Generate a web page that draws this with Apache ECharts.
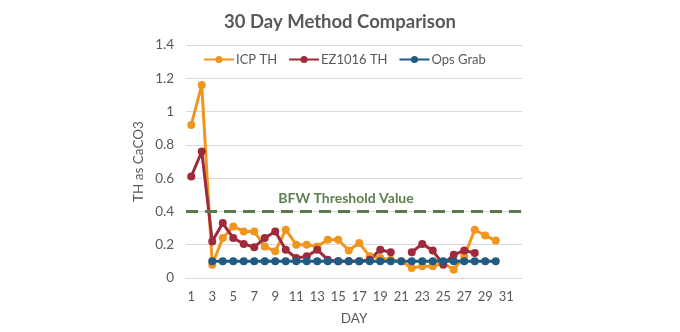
<!DOCTYPE html>
<html>
<head>
<meta charset="utf-8">
<script src="https://cdn.jsdelivr.net/npm/echarts@6/dist/echarts.min.js"></script>
<style>
  html, body { margin: 0; padding: 0; background: #ffffff; }
  #chart { width: 680px; height: 332px; }
</style>
</head>
<body>
<div id="chart"></div>
<script>
const days = ['1','2','3','4','5','6','7','8','9','10','11','12','13','14','15','16',
              '17','18','19','20','21','22','23','24','25','26','27','28','29','30','31','32'];
const icpTH = [0.92, 1.16, 0.08, 0.24, 0.31, 0.28, 0.28, 0.19, 0.16, 0.29, 0.20, 0.20, 0.19, 0.23, 0.23, 0.165,
               0.21, 0.13, 0.12, 0.11, 0.10, 0.06, 0.07, 0.07, 0.09, 0.05, 0.13, 0.29, 0.255, 0.225, null, null];
const ez1016TH = [0.61, 0.76, 0.22, 0.33, 0.24, 0.205, 0.185, 0.24, 0.28, 0.17, 0.12, 0.13, 0.17, 0.11, 0.10, 0.10,
                  0.10, 0.11, 0.17, 0.155, null, 0.155, 0.205, 0.165, 0.08, 0.14, 0.165, 0.15, null, null, null, null];
const opsGrab = [null, null, 0.1, 0.1, 0.1, 0.1, 0.1, 0.1, 0.1, 0.1, 0.1, 0.1, 0.1, 0.1, 0.1, 0.1,
                 0.1, 0.1, 0.1, 0.1, 0.1, 0.1, 0.1, 0.1, 0.1, 0.1, 0.1, 0.1, 0.1, 0.1, null, null];
const threshold = 0.4;
const thresholdLabel = 'BFW Threshold Value';

const FONT = 'Lato';
const TXT = '#595959';

function lineSeries(name, data, color, extra) {
  return Object.assign({
    name: name,
    type: 'line',
    data: data,
    connectNulls: false,
    symbol: 'circle',
    symbolSize: 8,
    showSymbol: true,
    showAllSymbol: true,
    lineStyle: { width: 3, color: color },
    itemStyle: { color: color, borderWidth: 0 },
    emphasis: { disabled: true },
    animation: false
  }, extra || {});
}

const chart = echarts.init(document.getElementById('chart'), null, { renderer: 'canvas' });
chart.setOption({
  animation: false,
  backgroundColor: '#ffffff',
  textStyle: { fontFamily: FONT },
  title: {
    text: '30 Day Method Comparison',
    left: 'center',
    top: 8,
    textStyle: { fontFamily: FONT, fontSize: 18.5, fontWeight: 'bold', color: TXT }
  },
  legend: {
    left: 198,
    top: 48,
    itemWidth: 30,
    itemHeight: 9,
    itemGap: 11,
    textStyle: { fontFamily: FONT, fontSize: 13, color: TXT, padding: [0, 0, 0, -3] },
    data: ['ICP TH', 'EZ1016 TH', 'Ops Grab']
  },
  grid: { left: 186, right: 158, top: 45, bottom: 54 },
  xAxis: {
    type: 'category',
    data: days,
    boundaryGap: true,
    name: 'DAY',
    nameLocation: 'middle',
    nameGap: 34,
    nameTextStyle: { fontFamily: FONT, fontSize: 13.5, color: TXT },
    axisLine: { show: true, lineStyle: { color: '#D9D9D9', width: 1 } },
    axisTick: { show: false },
    axisLabel: { interval: 1, margin: 12, fontFamily: FONT, fontSize: 13, color: TXT }
  },
  yAxis: {
    type: 'value',
    min: 0,
    max: 1.4,
    interval: 0.2,
    name: 'TH as CaCO3',
    nameLocation: 'middle',
    nameRotate: 90,
    nameGap: 40,
    nameTextStyle: { fontFamily: FONT, fontSize: 13.5, color: TXT },
    axisLine: { show: false },
    axisTick: { show: false },
    axisLabel: { margin: 12, fontFamily: FONT, fontSize: 13.5, color: TXT },
    splitLine: { show: true, lineStyle: { color: '#D9D9D9', width: 1 } }
  },
  series: [
    lineSeries('ICP TH', icpTH, '#F0961E'),
    lineSeries('EZ1016 TH', ez1016TH, '#9E2A3C'),
    lineSeries('Ops Grab', opsGrab, '#1F5C84', {
      markLine: {
        silent: true,
        symbol: ['none', 'none'],
        animation: false,
        lineStyle: { type: [12, 7], width: 3, color: '#5B7A4C' },
        label: {
          show: true,
          position: 'middle',
          formatter: thresholdLabel,
          distance: 6,
          offset: [-8, 0],
          fontFamily: FONT,
          fontSize: 14,
          fontWeight: 'bold',
          color: '#5E8050'
        },
        emphasis: { disabled: true },
        data: [{ yAxis: threshold }]
      }
    })
  ]
});
</script>
</body>
</html>
